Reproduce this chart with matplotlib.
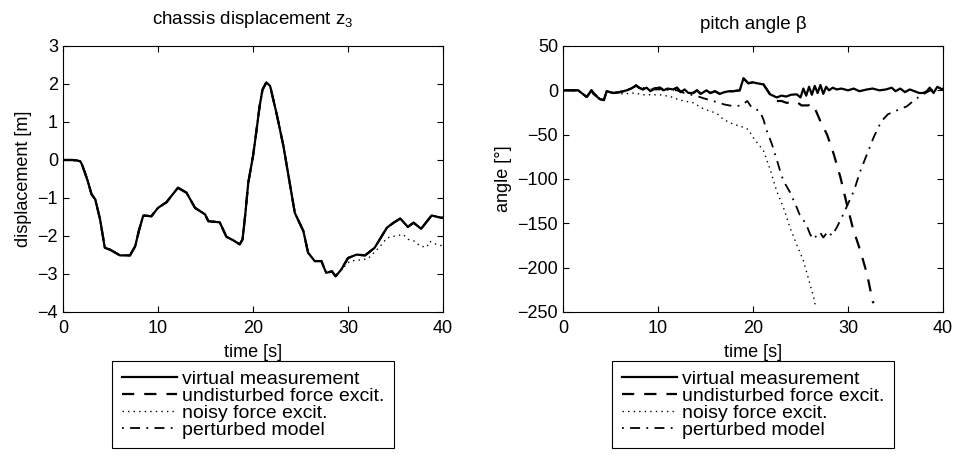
import numpy as np
import matplotlib
matplotlib.use("Agg")
import matplotlib.pyplot as plt

plt.rcParams["font.family"] = ["Liberation Sans", "DejaVu Sans"]
plt.rcParams["mathtext.fontset"] = "custom"
plt.rcParams["mathtext.rm"] = "Liberation Sans"
plt.rcParams["mathtext.default"] = "regular"

# chassis displacement z3 [m]
z_time = [0, 1.0, 1.4, 1.8, 2.0, 2.3, 2.6, 3.0, 3.4, 3.9, 4.4, 4.95, 6.0, 7.05, 7.6, 8.0,
          8.45, 9.3, 10.0, 10.9, 11.4, 12.1, 13.0, 13.9, 14.95, 15.3, 16.5, 17.2, 17.9,
          18.6, 18.9, 19.2, 19.5, 20.0, 20.3, 20.7, 21.0, 21.4, 21.8, 22.5, 23.2, 24.4,
          25.3, 25.8, 26.5, 27.2, 27.7, 28.3, 28.7, 29.3, 30.0, 30.9, 31.8, 32.8, 34.1,
          34.8, 35.5, 36.3, 36.9, 37.7, 38.8, 39.8, 40]
z_meas = [0, 0, -0.01, -0.03, -0.12, -0.33, -0.55, -0.9, -1.04, -1.56, -2.31, -2.36, -2.51,
          -2.51, -2.27, -1.85, -1.46, -1.48, -1.26, -1.11, -0.95, -0.73, -0.86, -1.26, -1.43,
          -1.61, -1.64, -2.02, -2.11, -2.22, -2.09, -1.4, -0.6, 0.1, 0.65, 1.42, 1.85, 2.04,
          1.95, 1.2, 0.37, -1.39, -1.87, -2.44, -2.66, -2.66, -2.97, -2.93, -3.06, -2.88,
          -2.58, -2.49, -2.51, -2.31, -1.78, -1.65, -1.54, -1.76, -1.65, -1.81, -1.46, -1.52,
          -1.52]
# noisy force excitation leaves the measurement after ~29 s
z_noisy_time = [30.2, 31.6, 32.1, 33.4, 34.1, 34.95, 35.8, 36.35, 37.05, 37.6, 38.3, 38.6,
                39.3, 39.8, 40]
z_noisy_tail = [-2.66, -2.62, -2.6, -2.27, -2.05, -2.0, -1.96, -2.09, -2.14, -2.27, -2.29,
                -2.14, -2.22, -2.25, -2.25]

# pitch angle beta [deg]
b_time = [0, 1.6, 2.5, 3.0, 3.2, 3.9, 4.3, 4.6, 5.3, 6.0, 6.7, 7.2, 7.7, 8.0, 8.4, 8.8, 9.2,
          9.6, 10.2, 10.6, 11.0, 11.6, 12.0, 12.4, 12.8, 13.2, 13.7, 14.1, 14.5, 15.1, 15.5,
          16.0, 16.5, 17.0, 17.5, 17.9, 18.6, 19.0, 19.5, 20.0, 20.4, 21.1, 21.8, 22.5, 23.0,
          23.5, 24.0, 24.6, 25.0, 25.3, 25.6, 25.9, 26.2, 26.5, 26.8, 27.1, 27.4, 27.7, 28.0,
          28.4, 28.8, 29.3, 30.0, 30.6, 31.2, 32.0, 32.6, 33.3, 34.0, 34.6, 35.0, 35.5, 36.0,
          36.5, 37.0, 37.5, 37.9, 38.3, 38.6, 39.0, 39.4, 39.9, 40]
b_meas = [0, 0, -7.5, 0, -4, -10, -11, -1, -3, -2, 0, 2, 5.6, 3, 1, 3, -1, 2, 3, 0, 2, 1, 3,
          -2, 1, -3, -3, 0, -4, 0, -3, -1, -4, -2, -1, -1, 0, 13.5, 8, 9, 8, 6.7, -4.5, -8,
          -6, -7, -5, -4.5, -8, 2, -6, 4, -5, 5, -3, 6, -4, 4, 0, 3, 1,
          2, 0, 2, -1, 1, 2, 0, 1, 3, -1, 2, -2, 1, -1, -3, -3, -1, 3, -3, 4, 1, 2]
# undisturbed force excitation, after it leaves the measurement
b_und_time = [22.0, 22.5, 23.0, 23.5, 24.2, 24.6, 25.1, 25.8, 26.2, 26.5, 27.1, 27.8, 28.5,
              29.2, 29.8, 30.5, 31.3, 32.0, 32.6, 32.7]
b_und_tail = [-8, -12, -12, -14, -14, -13, -17, -17, -15, -20, -35, -50, -72, -98, -125, -155,
              -181, -207, -238, -240]
# noisy force excitation
b_noisy_time = [0, 1.6, 2.5, 3.0, 3.9, 4.3, 4.6, 5.3, 6.3, 7.5, 8.5, 10.2, 11.3, 12.3, 13.7,
                14.8, 16.2, 16.9, 17.9, 18.8, 19.5, 20.0, 20.5, 21.1, 21.8, 22.5, 23.2, 23.9,
                24.6, 25.3, 25.8, 26.4, 26.6]
b_noisy = [0, 0, -7.5, -1, -10, -11, -2, -3, -4, -3, -5, -5, -7, -11, -14, -21, -26, -33, -38,
           -41, -44, -53, -60, -68, -89, -114, -132, -155, -174, -192, -211, -234, -245]
# perturbed model
b_pert_time = [0, 1.6, 2.5, 3.0, 3.9, 4.3, 4.6, 5.3, 6.7, 7.7, 9.0, 10.5, 12.0, 13.0, 14.0,
               14.8, 15.8, 17.0, 18.0, 18.8, 19.4, 19.9, 20.7, 21.1, 21.4, 22.0, 22.5, 22.8,
               23.2, 23.9, 24.6, 24.9, 25.6, 26.0, 26.3, 26.8, 27.05, 27.4, 27.9, 28.3, 28.8,
               29.5, 30.0, 30.6, 31.3, 32.0, 32.7, 33.5, 34.2, 35.5, 36.2, 37.1, 37.9, 38.5,
               39.0, 39.5, 40]
b_pert = [0, 0, -7.5, 0, -10, -11, -1, -3, 0, 5, 1, 1, 0, -4, -6, -9, -12, -16, -18, -17, -12,
          -20, -23, -33, -44, -61, -78, -89, -102, -115, -132, -140, -151, -162, -168, -163,
          -160, -166, -159, -164, -155, -140, -128, -114, -91, -72, -53, -35, -27, -21, -18,
          -10, -4.5, -1, 1, 3, 2]

labels = ["virtual measurement", "undisturbed force excit.", "noisy force excit.",
          "perturbed model"]
styles = [
    dict(linestyle="-", linewidth=1.6),
    dict(linestyle=(0, (5.5, 4.5)), linewidth=1.6),
    dict(linestyle=(0, (1, 3)), linewidth=1.0),
    dict(linestyle=(0, (1, 3.5, 5.5, 3.5)), linewidth=1.3),
]


def prefix(t, v, t_end):
    t = np.asarray(t, float)
    v = np.asarray(v, float)
    keep = t <= t_end
    return t[keep], v[keep]


fig = plt.figure(figsize=(9.54, 4.63), dpi=100)
fs = 13
ax1 = fig.add_axes([63 / 954, 1 - 312 / 463, 380 / 954, 266 / 463])
ax2 = fig.add_axes([563 / 954, 1 - 312 / 463, 380 / 954, 266 / 463])

# left panel: undisturbed and perturbed runs lie on the measurement
t0, v0 = prefix(z_time, z_meas, 29.3)
z_noisy_t = np.concatenate([t0, z_noisy_time])
z_noisy_v = np.concatenate([v0, z_noisy_tail])
left = [(z_time, z_meas), (z_time, z_meas), (z_noisy_t, z_noisy_v), (z_time, z_meas)]

t1, v1 = prefix(b_time, b_meas, 21.1)
b_und_t = np.concatenate([t1, b_und_time])
b_und_v = np.concatenate([v1, b_und_tail])
right = [(b_time, b_meas), (b_und_t, b_und_v), (b_noisy_time, b_noisy), (b_pert_time, b_pert)]

for ax, series in ((ax1, left), (ax2, right)):
    # measurement drawn last so it sits on top
    for i in (1, 2, 3, 0):
        t, v = series[i]
        ax.plot(t, v, color="black", **styles[i])
    handles = [plt.Line2D([], [], color="black", **st) for st in styles]
    ax.set_xlim(0, 40)
    ax.set_xticks([0, 10, 20, 30, 40])
    ax.tick_params(direction="in", top=True, right=True, length=4, width=0.8,
                   labelsize=fs)
    ax.tick_params(axis="x", pad=5.5)
    ax.tick_params(axis="y", pad=3.6)
    for sp in ax.spines.values():
        sp.set_linewidth(0.8)
    ax.set_xlabel("time [s]", fontsize=fs, labelpad=5)
    leg = ax.legend(handles, labels, loc="upper center", bbox_to_anchor=(0.5, -0.184),
                    fontsize=14, frameon=True, fancybox=False, framealpha=1,
                    edgecolor="black", handlelength=2.85, handletextpad=0.24,
                    labelspacing=-0.04, borderpad=0.5, borderaxespad=0)
    leg.get_frame().set_linewidth(0.8)

ax1.set_ylim(-4, 3)
ax1.set_yticks(range(-4, 4))
ax1.set_ylabel("displacement [m]", fontsize=fs, labelpad=4)
ax1.set_title("chassis displacement z$_3$", fontsize=13.5, pad=16)

ax2.set_ylim(-250, 50)
ax2.set_yticks(range(-250, 51, 50))
ax2.set_ylabel("angle [°]", fontsize=fs, labelpad=4)
ax2.set_title("pitch angle β", fontsize=13.5, pad=12)

fig.savefig("out.png", dpi=100)
